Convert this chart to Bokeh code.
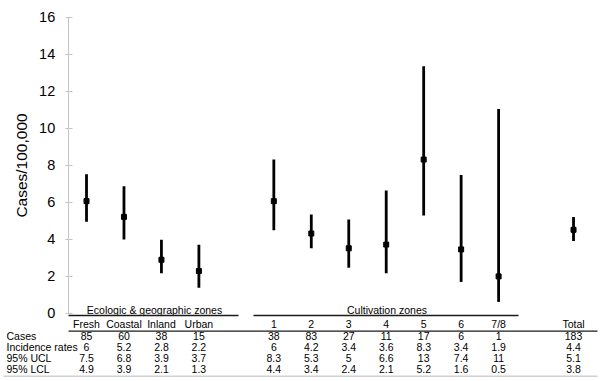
from bokeh.plotting import figure
from bokeh.models import Range1d, LinearAxis, FixedTicker, ColumnDataSource
from bokeh.embed import file_html
from bokeh.resources import INLINE
from bokeh.core.properties import value

# ---------------- data ----------------
groups = ["Fresh", "Coastal", "Inland", "Urban", "1", "2", "3", "4", "5", "6", "7/8", "Total"]
slots = [0, 1, 2, 3, 5, 6, 7, 8, 9, 10, 11, 13]
rate_plot = [6.05, 5.2, 2.88, 2.27, 6.05, 4.3, 3.5, 3.7, 8.3, 3.44, 1.98, 4.5]
ucl_plot = [7.5, 6.85, 3.96, 3.69, 8.3, 5.33, 5.06, 6.63, 13.35, 7.46, 11.04, 5.19]
lcl_plot = [4.94, 3.98, 2.15, 1.37, 4.47, 3.5, 2.45, 2.15, 5.28, 1.68, 0.6, 3.89]

cases_txt = ["85", "60", "38", "15", "38", "83", "27", "11", "17", "6", "1", "183"]
rates_txt = ["6", "5.2", "2.8", "2.2", "6", "4.2", "3.4", "3.6", "8.3", "3.4", "1.9", "4.4"]
ucl_txt = ["7.5", "6.8", "3.9", "3.7", "8.3", "5.3", "5", "6.6", "13", "7.4", "11", "5.1"]
lcl_txt = ["4.9", "3.9", "2.1", "1.3", "4.4", "3.4", "2.4", "2.1", "5.2", "1.6", "0.5", "3.8"]
row_labels = ["Cases", "Incidence rates", "95% UCL", "95% LCL"]
zone_headers = ["Ecologic & geographic zones", "Cultivation zones"]
y_ticks = [0, 2, 4, 6, 8, 10, 12, 14, 16]

FONT = "Liberation Sans"
W, H = 600, 381
AXIS_X = -0.489

p = figure(width=W, height=H, output_backend="svg", toolbar_location=None,
           x_range=Range1d(-2.296, 13.72), y_range=Range1d(-3.705, 16.903),
           x_axis_location=None, y_axis_location=None,
           min_border_left=0, min_border_right=0, min_border_top=0, min_border_bottom=0)
p.outline_line_color = None
p.xgrid.visible = False
p.ygrid.visible = False
p.background_fill_color = "white"
p.border_fill_color = "white"

# pixel helper ranges for the table layout
p.extra_y_ranges = {"px": Range1d(H, 0)}
p.extra_x_ranges = {"px": Range1d(0, W)}

yax = LinearAxis(ticker=FixedTicker(ticks=y_ticks), bounds=(0, 16),
                 axis_label="Cases/100,000", fixed_location=AXIS_X)
yax.axis_line_color = "#c4c4c4"
yax.axis_line_width = 1
yax.major_tick_line_color = "#c4c4c4"
yax.major_tick_in = 4
yax.major_tick_out = 3
yax.minor_tick_line_color = None
yax.major_label_text_font = FONT
yax.major_label_text_font_size = "14.5px"
yax.major_label_text_color = "black"
yax.major_label_standoff = 10
yax.axis_label_text_font = FONT
yax.axis_label_text_font_size = "15.5px"
yax.axis_label_text_font_style = "normal"
yax.axis_label_text_color = "black"
yax.axis_label_standoff = 6
p.add_layout(yax, "left")

# error bars + points
src = ColumnDataSource(dict(x=slots, r=rate_plot, u=ucl_plot, l=lcl_plot))
p.segment(x0="x", y0="l", x1="x", y1="u", source=src, line_color="black", line_width=2.8)
p.scatter(x="x", y="r", source=src, marker="square", size=5, fill_color="black",
          line_color="black", line_width=1)

# ---------------- table ----------------
ROW_Y = [335.8, 346.5, 357, 368]
COL_Y = 323.5
HEAD_Y = 309
HEAD_LINE_Y = 315
COL_LINE_Y = 330.7
BOTTOM_LINE_Y = 375.7

txt_kw = dict(text_font=value(FONT), text_font_size="10.5px", text_color="black",
              text_baseline="middle", y_range_name="px")

p.text(x=slots, y=[COL_Y] * len(slots), text=groups, text_align="center", **txt_kw)
for ry, vals in zip(ROW_Y, [cases_txt, rates_txt, ucl_txt, lcl_txt]):
    p.text(x=slots, y=[ry] * len(slots), text=vals, text_align="center", **txt_kw)

# row labels on the left
p.text(x=[6] * 4, y=ROW_Y, text=row_labels, x_range_name="px", text_align="left", **txt_kw)

# zone headers and their rules
p.text(x=[154, 386.5], y=[HEAD_Y, HEAD_Y], text=zone_headers, x_range_name="px",
       text_align="center", **txt_kw)
p.segment(x0=[68, 253], x1=[238, 518], y0=[HEAD_LINE_Y] * 2, y1=[HEAD_LINE_Y] * 2,
          x_range_name="px", y_range_name="px", line_color="#1a1a1a", line_width=1.5)
p.segment(x0=[68], x1=[597], y0=[COL_LINE_Y], y1=[COL_LINE_Y],
          x_range_name="px", y_range_name="px", line_color="#1a1a1a", line_width=1.2)
p.segment(x0=[3], x1=[597], y0=[BOTTOM_LINE_Y], y1=[BOTTOM_LINE_Y],
          x_range_name="px", y_range_name="px", line_color="#d0d0d0", line_width=1.5)

open("out.html", "w").write(file_html(p, INLINE))
